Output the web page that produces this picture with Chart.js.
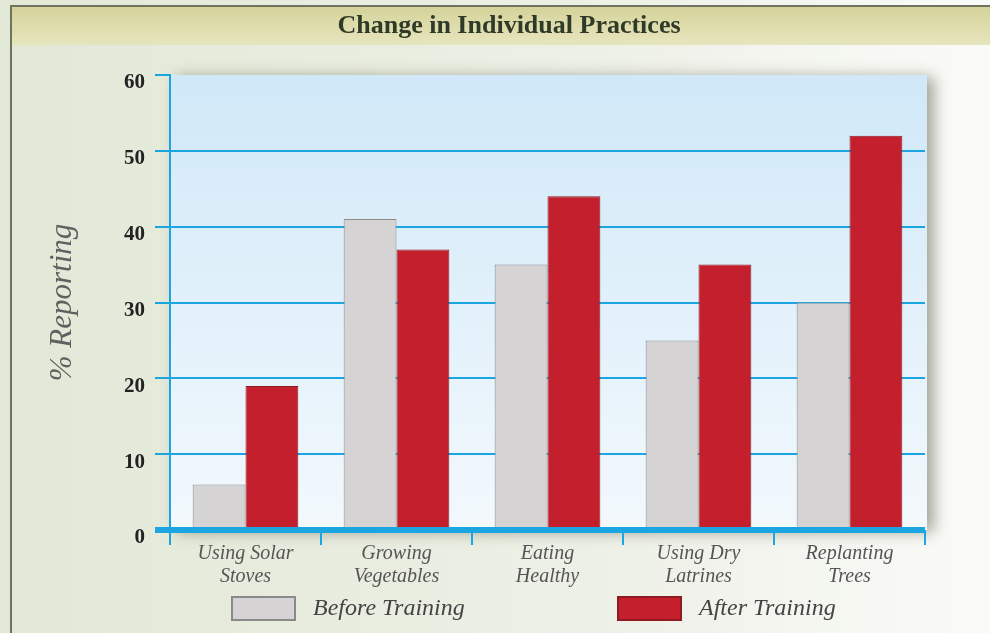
<!DOCTYPE html>
<html>
<head>
<meta charset="utf-8">
<script src="https://cdn.jsdelivr.net/npm/chart.js@4.4.1/dist/chart.umd.min.js"></script>
<style>
  html, body { margin: 0; padding: 0; background: #fff; }
  #wrap { width: 990px; height: 633px; }
</style>
</head>
<body>
<div id="wrap"><canvas id="practicesChart" width="990" height="633"></canvas></div>
<script>
const practices = [
  ["Using Solar", "Stoves"],
  ["Growing", "Vegetables"],
  ["Eating", "Healthy"],
  ["Using Dry", "Latrines"],
  ["Replanting", "Trees"],
];
const beforeTraining = [6, 41, 35, 25, 30];
const afterTraining = [19, 37, 44, 35, 52];
const seriesNames = ["Before Training", "After Training"];
const yTicks = [0, 10, 20, 30, 40, 50, 60];
const chartTitle = "Change in Individual Practices";
const yAxisTitle = "% Reporting";

const blue = "#1ba6e2";
const serif = "'Liberation Serif', 'DejaVu Serif', serif";

// page background, title band, plot panel with shadow
const backdrop = {
  id: "backdrop",
  beforeDraw(chart) {
    const { ctx, width, height, chartArea: a } = chart;
    ctx.save();
    const bg = ctx.createLinearGradient(0, 0, width, 0);
    bg.addColorStop(0, "#e2e8d6");
    bg.addColorStop(0.6, "#edf0e6");
    bg.addColorStop(1, "#fafbf8");
    ctx.fillStyle = bg;
    ctx.fillRect(0, 0, width, height);

    // frame
    ctx.fillStyle = "#6f735f";
    ctx.fillRect(10, 5, 2, height - 5);
    ctx.fillRect(10, 5, width - 10, 2);

    // title band
    const band = ctx.createLinearGradient(0, 7, 0, 45);
    band.addColorStop(0, "#d5d39a");
    band.addColorStop(1, "#e7e5bd");
    ctx.fillStyle = band;
    ctx.fillRect(12, 7, width - 12, 38);
    ctx.fillStyle = "#2f3b28";
    ctx.font = "bold 26px " + serif;
    ctx.textAlign = "center";
    ctx.textBaseline = "middle";
    ctx.fillText(chartTitle, 509, 26);

    // plot panel
    ctx.shadowColor = "rgba(60,60,40,0.45)";
    ctx.shadowBlur = 14;
    ctx.shadowOffsetX = 7;
    ctx.shadowOffsetY = 2;
    const pg = ctx.createLinearGradient(0, a.top, 0, a.bottom);
    pg.addColorStop(0, "#d0e8f8");
    pg.addColorStop(1, "#f3f9fd");
    ctx.fillStyle = pg;
    ctx.fillRect(a.left, a.top, a.right - a.left + 2, a.bottom - a.top);
    ctx.restore();
  },
};

// legend boxes at the bottom, spaced like the original
const wideLegend = {
  id: "wideLegend",
  afterDraw(chart) {
    const { ctx } = chart;
    const boxX = [232, 618];
    ctx.save();
    chart.data.datasets.forEach((ds, i) => {
      ctx.fillStyle = ds.backgroundColor;
      ctx.fillRect(boxX[i], 597, 63, 23);
      ctx.strokeStyle = ds.borderColor;
      ctx.lineWidth = 2;
      ctx.strokeRect(boxX[i], 597, 63, 23);
      ctx.fillStyle = "#444";
      ctx.font = "italic 24px " + serif;
      ctx.textAlign = "left";
      ctx.textBaseline = "middle";
      ctx.fillText(ds.label, boxX[i] + 81, 609);
    });
    ctx.restore();
  },
};

new Chart(document.getElementById("practicesChart"), {
  type: "bar",
  data: {
    labels: practices,
    datasets: [
      {
        label: seriesNames[0],
        data: beforeTraining,
        backgroundColor: "#d5d3d3",
        borderColor: "#8a8a8a",
        borderWidth: 1,
      },
      {
        label: seriesNames[1],
        data: afterTraining,
        backgroundColor: "#c41f2d",
        borderColor: "#8e1a22",
        borderWidth: 1,
      },
    ],
  },
  options: {
    responsive: false,
    animation: false,
    devicePixelRatio: 1,
    layout: { padding: { top: 75, right: 65, bottom: 44, left: 0 } },
    categoryPercentage: 0.7,
    barPercentage: 1.0,
    plugins: {
      legend: { display: false },
      title: { display: false },
      tooltip: { enabled: false },
    },
    scales: {
      x: {
        afterFit: (s) => { s.height = 59; },
        grid: {
          display: true,
          offset: true,
          drawOnChartArea: false,
          drawTicks: true,
          tickLength: 15,
          color: blue,
          lineWidth: 2,
        },
        border: { display: false },
        ticks: {
          color: "#555",
          padding: -3,
          maxRotation: 0,
          autoSkip: false,
          font: { family: serif, style: "italic", size: 20, lineHeight: 1.15 },
        },
      },
      y: {
        min: 0,
        max: 60,
        afterFit: (s) => { s.width = 170; },
        afterBuildTicks: (s) => { s.ticks = yTicks.map((v) => ({ value: v })); },
        grid: {
          color: (c) => (c.tick && c.tick.value === 60 ? "rgba(0,0,0,0)" : blue),
          tickColor: blue,
          lineWidth: (c) => (c.tick && c.tick.value === 0 ? 6 : 2),
          tickWidth: (c) => (c.tick && c.tick.value === 0 ? 6 : 2),
          tickLength: 15,
        },
        border: { display: true, color: blue, width: 2 },
        ticks: {
          color: "#222",
          padding: 10,
          labelOffset: 8,
          font: { family: serif, weight: "bold", size: 21 },
        },
        title: {
          display: true,
          text: yAxisTitle,
          color: "#606060",
          padding: { top: 44 },
          font: { family: serif, style: "italic", size: 31 },
        },
      },
    },
  },
  plugins: [backdrop, wideLegend],
});
</script>
</body>
</html>
